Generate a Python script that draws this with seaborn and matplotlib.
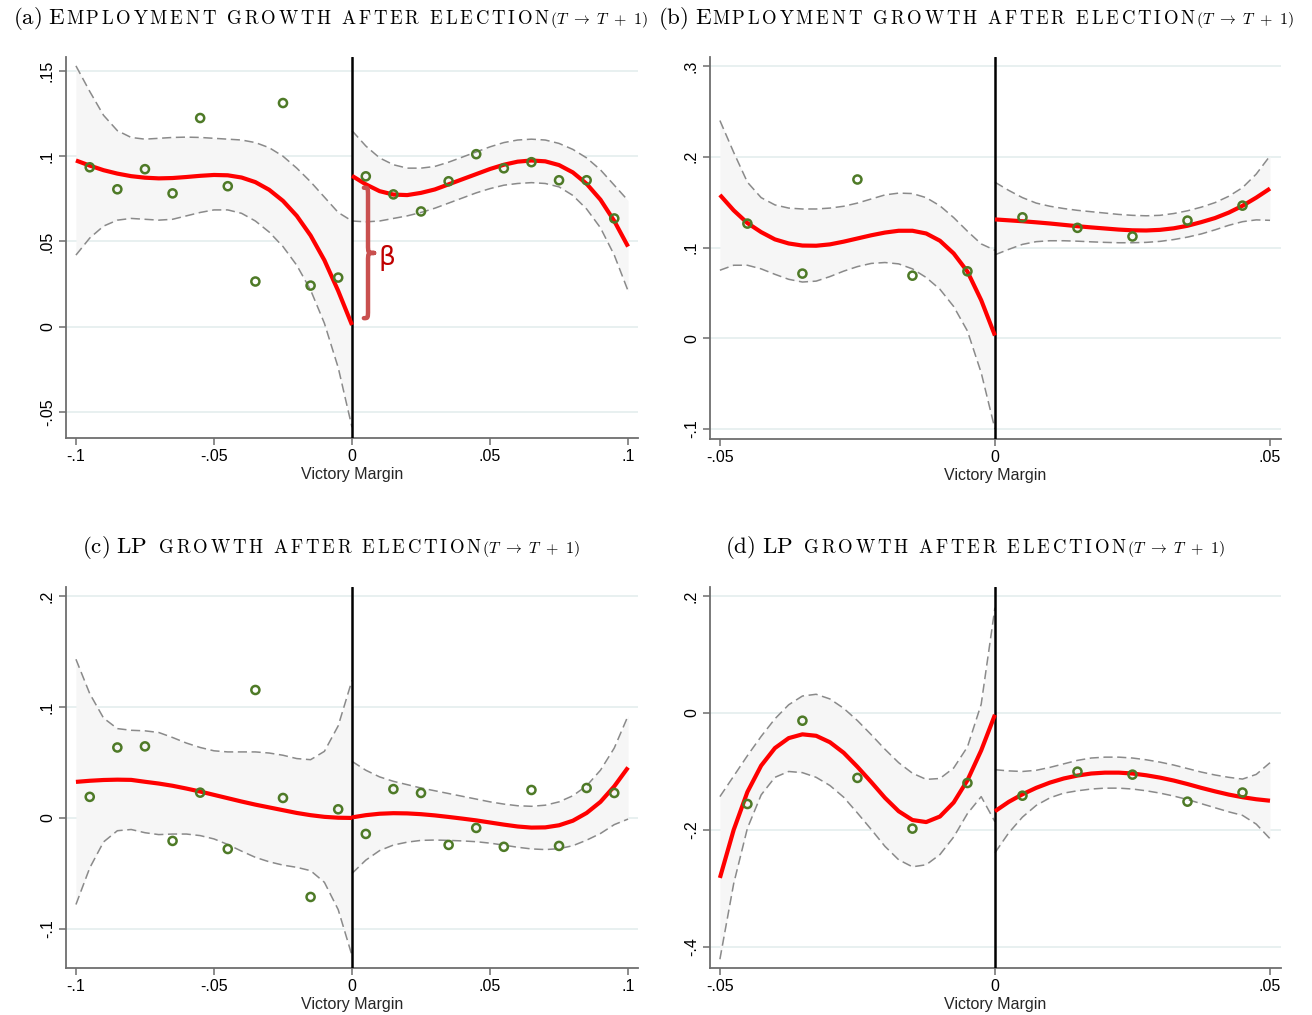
import numpy as np
import pandas as pd
import matplotlib
matplotlib.use("Agg")
import matplotlib.pyplot as plt
import seaborn as sns
from matplotlib.path import Path
from matplotlib.patches import PathPatch

# ---------------------------------------------------------------- data
# (a) employment growth, full bandwidth (|margin| <= .10)
a_bins_l = [-0.095, -0.085, -0.075, -0.065, -0.055, -0.045, -0.035, -0.025, -0.015, -0.005]
a_mean_l = [0.0935, 0.0806, 0.0924, 0.0782, 0.1224, 0.0824, 0.0265, 0.1312, 0.0241, 0.0288]
a_bins_r = [0.005, 0.015, 0.025, 0.035, 0.045, 0.055, 0.065, 0.075, 0.085, 0.095]
a_mean_r = [0.0882, 0.0776, 0.0676, 0.0853, 0.1012, 0.0929, 0.0965, 0.0859, 0.0859, 0.0635]
a_grid_l = np.linspace(-0.10, 0.0, 21)
a_fit_l = [0.0975, 0.0945, 0.0918, 0.0898, 0.0883, 0.0874, 0.0870, 0.0872, 0.0878, 0.0885, 0.0890,
           0.0888, 0.0875, 0.0848, 0.0803, 0.0738, 0.0650, 0.0535, 0.0390, 0.0210, 0.0010]
a_hi_l = [0.153, 0.138, 0.124, 0.115, 0.111, 0.110, 0.1105, 0.111, 0.1112, 0.111, 0.1105,
          0.110, 0.1095, 0.108, 0.105, 0.100, 0.093, 0.085, 0.076, 0.067, 0.062]
a_lo_l = [0.042, 0.052, 0.059, 0.0625, 0.0635, 0.063, 0.0625, 0.063, 0.065, 0.067, 0.0685,
          0.0685, 0.0665, 0.062, 0.0555, 0.047, 0.036, 0.0215, 0.002, -0.024, -0.059]
a_grid_r = np.linspace(0.0, 0.10, 21)
a_fit_r = [0.0885, 0.0835, 0.0795, 0.0775, 0.0772, 0.0785, 0.0805, 0.0835, 0.0865, 0.0895, 0.0925,
           0.0950, 0.0968, 0.0975, 0.0970, 0.0948, 0.0905, 0.0838, 0.0745, 0.0620, 0.0470]
a_hi_r = [0.115, 0.106, 0.099, 0.095, 0.093, 0.093, 0.094, 0.0965, 0.0995, 0.1025, 0.1055,
          0.108, 0.1095, 0.110, 0.1095, 0.1075, 0.104, 0.099, 0.092, 0.083, 0.074]
a_lo_r = [0.062, 0.0615, 0.062, 0.0635, 0.065, 0.067, 0.0695, 0.0725, 0.0755, 0.0785, 0.081,
          0.083, 0.084, 0.0845, 0.084, 0.082, 0.077, 0.069, 0.058, 0.042, 0.021]

# (b) employment growth, narrow bandwidth (|margin| <= .05)
b_bins_l = [-0.045, -0.035, -0.025, -0.015, -0.005]
b_mean_l = [0.1264, 0.0713, 0.1750, 0.0690, 0.0738]
b_bins_r = [0.005, 0.015, 0.025, 0.035, 0.045]
b_mean_r = [0.1333, 0.1217, 0.1122, 0.1297, 0.1462]
b_grid_l = np.linspace(-0.05, 0.0, 21)
b_fit_l = [0.158, 0.141, 0.127, 0.117, 0.109, 0.1045, 0.1022, 0.1020, 0.1035, 0.1065, 0.1100,
           0.1135, 0.1165, 0.1185, 0.1185, 0.1155, 0.1075, 0.0935, 0.0735, 0.0420, 0.003]
b_hi_l = [0.240, 0.205, 0.172, 0.155, 0.147, 0.1435, 0.1425, 0.1425, 0.1435, 0.1455, 0.149,
          0.1535, 0.158, 0.160, 0.1595, 0.155, 0.146, 0.133, 0.118, 0.104, 0.097]
b_lo_l = [0.075, 0.0805, 0.0805, 0.0765, 0.0705, 0.065, 0.062, 0.063, 0.068, 0.074, 0.079,
          0.0825, 0.0835, 0.082, 0.0765, 0.067, 0.054, 0.035, 0.008, -0.038, -0.100]
b_grid_r = np.linspace(0.0, 0.05, 21)
b_fit_r = [0.131, 0.1300, 0.1290, 0.1278, 0.1265, 0.1250, 0.1235, 0.1222, 0.1210, 0.1198, 0.1190,
           0.1188, 0.1195, 0.1212, 0.1240, 0.1280, 0.1325, 0.1385, 0.1460, 0.1550, 0.1650]
b_hi_r = [0.172, 0.163, 0.155, 0.149, 0.1455, 0.143, 0.141, 0.1395, 0.1380, 0.1365, 0.1355,
          0.1350, 0.1355, 0.1375, 0.1405, 0.1445, 0.1495, 0.1565, 0.166, 0.181, 0.201]
b_lo_r = [0.092, 0.098, 0.1035, 0.1065, 0.1075, 0.1075, 0.107, 0.1063, 0.1057, 0.1053, 0.1053,
          0.1057, 0.1068, 0.1088, 0.1115, 0.1150, 0.1195, 0.1245, 0.1285, 0.1305, 0.1300]

# (c) labour-productivity growth, full bandwidth
c_bins_l = a_bins_l
c_mean_l = [0.0190, 0.0635, 0.0645, -0.0207, 0.0228, -0.0280, 0.1153, 0.0180, -0.0712, 0.0078]
c_bins_r = a_bins_r
c_mean_r = [-0.0144, 0.0260, 0.0225, -0.0243, -0.0090, -0.0260, 0.0252, -0.0252, 0.0270, 0.0225]
c_grid_l = np.linspace(-0.10, 0.0, 21)
c_fit_l = [0.0325, 0.0335, 0.0342, 0.0345, 0.0343, 0.0326, 0.0310, 0.0290, 0.0265, 0.0238, 0.0208,
           0.0178, 0.0148, 0.0120, 0.0095, 0.0070, 0.0045, 0.0025, 0.0010, 0.0002, 0.0000]
c_hi_l = [0.143, 0.112, 0.090, 0.0805, 0.0790, 0.0785, 0.0770, 0.0725, 0.0675, 0.0635, 0.0605,
          0.0595, 0.0595, 0.0595, 0.0585, 0.0565, 0.0535, 0.0525, 0.0600, 0.0830, 0.124]
c_lo_l = [-0.078, -0.045, -0.0216, -0.0115, -0.0104, -0.0133, -0.015, -0.0145, -0.0145, -0.0159, -0.0189,
          -0.0239, -0.0299, -0.0355, -0.0395, -0.0425, -0.0445, -0.0475, -0.058, -0.0826, -0.124]
c_grid_r = np.linspace(0.0, 0.10, 21)
c_fit_r = [0.0005, 0.0025, 0.0038, 0.0043, 0.0041, 0.0034, 0.0023, 0.0009, -0.0006, -0.0022, -0.0041,
           -0.0060, -0.0077, -0.0087, -0.0085, -0.0066, -0.0025, 0.0045, 0.0145, 0.0285, 0.0455]
c_hi_r = [0.051, 0.043, 0.037, 0.033, 0.030, 0.027, 0.0245, 0.022, 0.0195, 0.017, 0.0145,
          0.0125, 0.011, 0.0105, 0.0115, 0.0145, 0.020, 0.029, 0.043, 0.063, 0.092]
c_lo_r = [-0.050, -0.038, -0.0294, -0.0244, -0.0218, -0.0202, -0.0199, -0.0202, -0.0207, -0.0214, -0.0227,
          -0.0245, -0.0264, -0.0279, -0.0285, -0.0277, -0.025, -0.020, -0.014, -0.006, -0.001]

# (d) labour-productivity growth, narrow bandwidth
d_bins_l = b_bins_l
d_mean_l = [-0.1556, -0.0132, -0.1110, -0.1977, -0.1197]
d_bins_r = b_bins_r
d_mean_r = [-0.1414, -0.1003, -0.1054, -0.1516, -0.1360]
d_grid_l = np.linspace(-0.05, 0.0, 21)
d_fit_l = [-0.282, -0.200, -0.135, -0.090, -0.060, -0.043, -0.0365, -0.039, -0.050, -0.068, -0.092,
           -0.118, -0.145, -0.168, -0.183, -0.1865, -0.177, -0.153, -0.115, -0.064, -0.003]
d_hi_l = [-0.143, -0.108, -0.073, -0.040, -0.010, 0.014, 0.029, 0.032, 0.024, 0.008, -0.013,
          -0.037, -0.062, -0.085, -0.103, -0.1135, -0.112, -0.094, -0.058, 0.015, 0.180]
d_lo_l = [-0.421, -0.292, -0.197, -0.140, -0.110, -0.100, -0.102, -0.110, -0.124, -0.144, -0.171,
          -0.199, -0.228, -0.251, -0.263, -0.2595, -0.242, -0.212, -0.172, -0.143, -0.186]
d_grid_r = np.linspace(0.0, 0.05, 21)
d_fit_r = [-0.168, -0.152, -0.139, -0.128, -0.119, -0.112, -0.107, -0.1035, -0.1020, -0.1020, -0.1035,
           -0.1065, -0.1105, -0.1155, -0.1215, -0.1280, -0.1340, -0.1395, -0.1440, -0.1475, -0.1500]
d_hi_r = [-0.097, -0.099, -0.100, -0.098, -0.093, -0.087, -0.081, -0.077, -0.0755, -0.0755, -0.077,
          -0.080, -0.084, -0.089, -0.095, -0.101, -0.106, -0.110, -0.113, -0.105, -0.085]
d_lo_r = [-0.239, -0.205, -0.178, -0.158, -0.145, -0.137, -0.133, -0.130, -0.1285, -0.1285, -0.130,
          -0.133, -0.137, -0.142, -0.148, -0.155, -0.162, -0.169, -0.175, -0.190, -0.215]

# axis ticks and labels
wide_xticks = [-0.1, -0.05, 0, 0.05, 0.1]
wide_xlabels = ["-.1", "-.05", "0", ".05", ".1"]
narrow_xticks = [-0.05, 0, 0.05]
narrow_xlabels = ["-.05", "0", ".05"]
a_yticks = [-0.05, 0, 0.05, 0.1, 0.15]
a_ylabels = ["-.05", "0", ".05", ".1", ".15"]
b_yticks = [-0.1, 0, 0.1, 0.2, 0.3]
b_ylabels = ["-.1", "0", ".1", ".2", ".3"]
c_yticks = [-0.1, 0, 0.1, 0.2]
c_ylabels = ["-.1", "0", ".1", ".2"]
d_yticks = [-0.4, -0.2, 0, 0.2]
d_ylabels = ["-.4", "-.2", "0", ".2"]

# ---------------------------------------------------------------- style
sns.set_theme(style="white")
plt.rcParams["font.family"] = ["Liberation Sans", "DejaVu Sans"]
plt.rcParams["mathtext.fontset"] = "cm"

RED = "#ff0000"
GREEN = "#4e7a27"
BAND = "#f6f6f6"
CI = "#8a8a8a"
SPINE = "#6e6e6e"
GRID = "#e8f0f0"

fig = plt.figure(figsize=(13.12, 10.15), dpi=100)
W, H = 1312, 1015


def px_axes(left, top, right, bottom):
    return fig.add_axes([left / W, 1 - bottom / H, (right - left) / W, (bottom - top) / H])


def draw_side(ax, grid, fit, lo, hi, bx, by):
    ax.fill_between(grid, lo, hi, color=BAND, lw=0, zorder=1)
    side = pd.DataFrame({"x": grid, "fit": fit, "lo": lo, "hi": hi})
    for col in ("lo", "hi"):
        sns.lineplot(data=side, x="x", y=col, ax=ax, color=CI, lw=1.1,
                     linestyle=(0, (6, 3)), estimator=None, sort=False, zorder=2)
    sns.lineplot(data=side, x="x", y="fit", ax=ax, color=RED, lw=3.0,
                 estimator=None, sort=False, zorder=5, solid_capstyle="butt")
    pts = pd.DataFrame({"x": bx, "y": by})
    sns.scatterplot(data=pts, x="x", y="y", ax=ax, marker="o", s=34,
                    facecolors="none", edgecolor=GREEN, linewidth=1.8, zorder=6)


def panel(ax, left, right, xlim, ylim, xticks, xlabels, yticks, ylabels):
    draw_side(ax, *left)
    draw_side(ax, *right)
    ax.axvline(0, color="black", lw=1.8, zorder=4)
    ax.set_xlim(*xlim)
    ax.set_ylim(*ylim)
    ax.set_xticks(xticks)
    ax.set_xticklabels(xlabels, fontsize=11.5)
    ax.set_yticks(yticks)
    ax.set_yticklabels(ylabels, fontsize=11.5, rotation=90, va="center")
    ax.set_xlabel("Victory Margin", fontsize=11.5, labelpad=2)
    ax.set_ylabel("")
    ax.yaxis.grid(True, color=GRID, lw=1.4)
    ax.xaxis.grid(False)
    ax.set_axisbelow(True)
    for s in ("top", "right"):
        ax.spines[s].set_visible(False)
    for s in ("left", "bottom"):
        ax.spines[s].set_color(SPINE)
        ax.spines[s].set_linewidth(1.3)
    ax.tick_params(axis="both", direction="out", length=5, width=1.1, color=SPINE,
                   labelcolor="black", pad=3, bottom=True, left=True)


ax_a = px_axes(66, 57, 638, 438)
ax_b = px_axes(710, 57, 1281, 439)
ax_c = px_axes(66, 587, 638, 968)
ax_d = px_axes(710, 587, 1281, 968)

panel(ax_a, (a_grid_l, a_fit_l, a_lo_l, a_hi_l, a_bins_l, a_mean_l),
      (a_grid_r, a_fit_r, a_lo_r, a_hi_r, a_bins_r, a_mean_r),
      (-0.1036, 0.1036), (-0.0653, 0.1582), wide_xticks, wide_xlabels, a_yticks, a_ylabels)
panel(ax_b, (b_grid_l, b_fit_l, b_lo_l, b_hi_l, b_bins_l, b_mean_l),
      (b_grid_r, b_fit_r, b_lo_r, b_hi_r, b_bins_r, b_mean_r),
      (-0.0518, 0.0520), (-0.111, 0.310), narrow_xticks, narrow_xlabels, b_yticks, b_ylabels)
panel(ax_c, (c_grid_l, c_fit_l, c_lo_l, c_hi_l, c_bins_l, c_mean_l),
      (c_grid_r, c_fit_r, c_lo_r, c_hi_r, c_bins_r, c_mean_r),
      (-0.1036, 0.1036), (-0.1352, 0.2081), wide_xticks, wide_xlabels, c_yticks, c_ylabels)
panel(ax_d, (d_grid_l, d_fit_l, d_lo_l, d_hi_l, d_bins_l, d_mean_l),
      (d_grid_r, d_fit_r, d_lo_r, d_hi_r, d_bins_r, d_mean_r),
      (-0.0518, 0.0520), (-0.436, 0.2154), narrow_xticks, narrow_xlabels, d_yticks, d_ylabels)

# ---------------------------------------------------------------- brace marking the jump at the cutoff
y_lo = a_fit_l[-1] + 0.004
y_hi = a_fit_r[0] - 0.007
y_mid = (y_lo + y_hi) / 2
x_end, x_body, x_tip = 0.0043, 0.0058, 0.0080
h = 0.005
verts = [
    (x_end, y_hi),
    (x_body, y_hi), (x_body, y_hi), (x_body, y_hi - h),
    (x_body, y_mid + h),
    (x_body, y_mid), (x_body, y_mid), (x_tip, y_mid),
    (x_body, y_mid), (x_body, y_mid), (x_body, y_mid - h),
    (x_body, y_lo + h),
    (x_body, y_lo), (x_body, y_lo), (x_end, y_lo),
]
codes = [Path.MOVETO,
         Path.CURVE4, Path.CURVE4, Path.CURVE4,
         Path.LINETO,
         Path.CURVE4, Path.CURVE4, Path.CURVE4,
         Path.CURVE4, Path.CURVE4, Path.CURVE4,
         Path.LINETO,
         Path.CURVE4, Path.CURVE4, Path.CURVE4]
ax_a.add_patch(PathPatch(Path(verts, codes), fill=False, edgecolor="#c9504f",
                         lw=3.2, capstyle="round", joinstyle="round", zorder=7))
ax_a.text(0.0095, y_mid - 0.003, "β", color="#c00000", fontsize=19,
          ha="left", va="center", family=["DejaVu Sans"], zorder=7)

# ---------------------------------------------------------------- small-caps panel titles
fig.canvas.draw()
renderer = fig.canvas.get_renderer()


def title(chunks, cx_px, base_px):
    items = []
    for s, size in chunks:
        t = fig.text(0, 1 - base_px / H, s, fontsize=size, ha="left", va="baseline",
                     color="black")
        w = t.get_window_extent(renderer).width
        items.append((t, w))
    total = sum(w for _, w in items)
    x = cx_px - total / 2
    for t, w in items:
        t.set_x(x / W)
        x += w


SC = r"\,"
sub = (r"$(T\ \rightarrow\ T\ +\ 1)$", 11.5)
emp = SC.join("MPLOYMENT") + r"\ \ " + SC.join("GROWTH") + r"\ \ " + SC.join("AFTER") \
    + r"\ \ " + SC.join("ELECTION")
lp = r"\ \ " + SC.join("GROWTH") + r"\ \ " + SC.join("AFTER") + r"\ \ " + SC.join("ELECTION")

title([(r"$\mathrm{(a)\ E}$", 16.5), (r"$\mathrm{" + emp + "}$", 13.5), sub], 330, 24)
title([(r"$\mathrm{(b)\ E}$", 16.5), (r"$\mathrm{" + emp + "}$", 13.5), sub], 976, 24)
title([(r"$\mathrm{(c)\ LP}$", 16.5), (r"$\mathrm{" + lp + "}$", 13.5), sub], 331, 553)
title([(r"$\mathrm{(d)\ LP}$", 16.5), (r"$\mathrm{" + lp + "}$", 13.5), sub], 975, 553)

fig.savefig("out.png", dpi=100)
